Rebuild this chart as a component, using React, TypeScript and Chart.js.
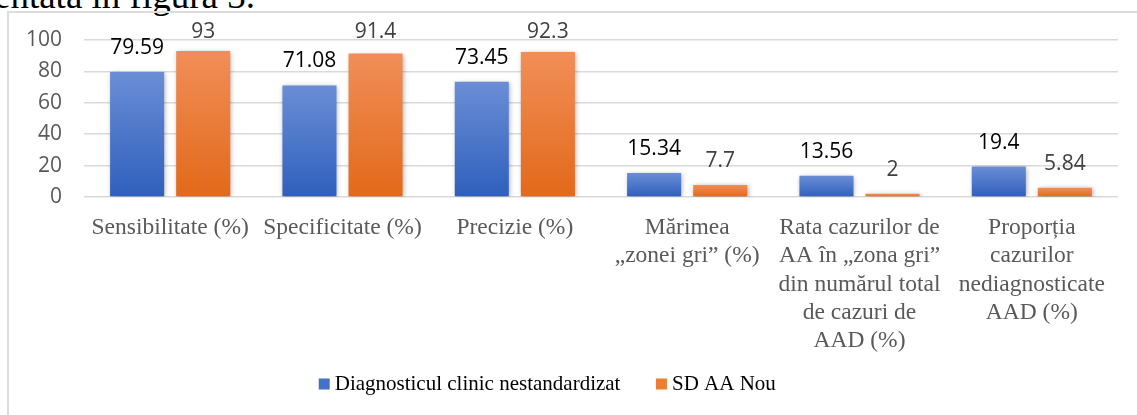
import { useEffect, useRef } from "react";
import { Chart, registerables } from "chart.js";

Chart.register(...registerables);

const categories: (string | string[])[] = [
  "Sensibilitate (%)",
  "Specificitate (%)",
  "Precizie (%)",
  ["Mărimea", "„zonei gri” (%)"],
  ["Rata cazurilor de", "AA în „zona gri”", "din numărul total", "de cazuri de", "AAD (%)"],
  ["Proporția", "cazurilor", "nediagnosticate", "AAD (%)"],
];
const seriesNames = ["Diagnosticul clinic nestandardizat", "SD AA Nou"];
const clinicValues = [79.59, 71.08, 73.45, 15.34, 13.56, 19.4];
const sdValues = [93, 91.4, 92.3, 7.7, 2, 5.84];
const yMin = 0;
const yMax = 100;
const yStep = 20;

const legendColors = ["#4472c4", "#ed7d31"];
const labelColors = ["#000000", "#404040"];

function barGradient(top: string, bottom: string, fallback: string) {
  return (c: any) => {
    const chart = c.chart;
    const y = chart.scales && chart.scales.y;
    if (!chart.chartArea || !y || c.type !== "data") return fallback;
    const v = c.raw as number;
    const y0 = y.getPixelForValue(0);
    const y1 = y.getPixelForValue(v);
    if (!isFinite(y0) || !isFinite(y1) || Math.abs(y0 - y1) < 0.5) return fallback;
    const g = chart.ctx.createLinearGradient(0, y1, 0, y0);
    g.addColorStop(0, top);
    g.addColorStop(1, bottom);
    return g;
  };
}

const LEGEND_SHIFT_X = 13;
const LEGEND_CENTER_Y = 372;
const LEGEND_PAD = 41;
const LEGEND_FONT = 21;

const decorPlugin = {
  id: "decor",
  afterLayout(chart: any) {
    const lg = chart.legend;
    if (lg) {
      lg.left -= LEGEND_SHIFT_X;
      lg.right -= LEGEND_SHIFT_X;
      const targetTop = LEGEND_CENTER_Y - LEGEND_PAD - LEGEND_FONT / 2;
      const dy = lg.top - targetTop;
      lg.top -= dy;
      lg.bottom -= dy;
    }
  },
  beforeDatasetsDraw(chart: any) {
    const ctx = chart.ctx;
    ctx.save();
    ctx.shadowColor = "rgba(0,0,0,0.35)";
    ctx.shadowBlur = 5;
    ctx.shadowOffsetX = 1;
    ctx.shadowOffsetY = 1;
  },
  afterDatasetsDraw(chart: any) {
    const ctx = chart.ctx;
    ctx.restore();
    ctx.save();
    ctx.font = "21px 'Open Sans'";
    ctx.textAlign = "center";
    ctx.textBaseline = "alphabetic";
    chart.data.datasets.forEach((ds: any, di: number) => {
      const meta = chart.getDatasetMeta(di);
      ctx.fillStyle = labelColors[di];
      meta.data.forEach((bar: any, i: number) => {
        const yb = Math.max(bar.y - 18, 25.5);
        ctx.fillText(String(ds.data[i]), bar.x, yb);
      });
    });
    ctx.restore();
  },
};

export default function App() {
  const ref = useRef<HTMLCanvasElement | null>(null);

  useEffect(() => {
    if (!ref.current) return;
    const chart = new Chart(ref.current, {
      type: "bar",
      data: {
        labels: categories as any,
        datasets: [
          {
            label: seriesNames[0],
            data: clinicValues,
            backgroundColor: barGradient("#6a8ed5", "#2f5fbd", legendColors[0]) as any,
            borderWidth: 0,
            categoryPercentage: 0.767,
            barPercentage: 0.818,
          },
          {
            label: seriesNames[1],
            data: sdValues,
            backgroundColor: barGradient("#f18e58", "#e2691a", legendColors[1]) as any,
            borderWidth: 0,
            categoryPercentage: 0.767,
            barPercentage: 0.818,
          },
        ],
      },
      options: {
        animation: false,
        responsive: false,
        maintainAspectRatio: false,
        layout: { padding: { left: 0, right: 19, top: 28, bottom: 0 } },
        scales: {
          x: {
            grid: { display: false, drawTicks: false },
            border: { display: false },
            ticks: {
              autoSkip: false,
              maxRotation: 0,
              minRotation: 0,
              padding: 17,
              color: "#595959",
              font: { family: "'Liberation Serif'", size: 23.5, lineHeight: 1.2 },
            },
            afterFit(scale: any) {
              scale.height = 160;
            },
          },
          y: {
            min: yMin,
            max: yMax,
            grid: { color: "#d9d9d9", lineWidth: 1.5, drawTicks: false },
            border: { display: false },
            ticks: {
              stepSize: yStep,
              padding: 22,
              color: "#595959",
              font: { family: "'Open Sans'", size: 21 },
            },
            afterFit(scale: any) {
              scale.width = 76;
              scale.paddingTop = 10;
              scale.paddingBottom = 10;
            },
          },
        },
        plugins: {
          tooltip: { enabled: false },
          legend: {
            position: "bottom",
            labels: {
              usePointStyle: true,
              pointStyle: "rect",
              boxWidth: 0.01,
              boxHeight: 11,
              padding: LEGEND_PAD,
              color: "#000000",
              font: { family: "'Liberation Serif'", size: LEGEND_FONT },
              generateLabels: (c: any) => {
                const items = (Chart.defaults.plugins.legend.labels as any).generateLabels(c);
                return items.map((it: any, i: number) => ({
                  ...it,
                  fillStyle: legendColors[i],
                  strokeStyle: legendColors[i],
                  lineWidth: 0,
                  pointStyle: "rect",
                }));
              },
            },
          },
        },
      },
      plugins: [decorPlugin],
    });
    return () => chart.destroy();
  }, []);

  return (
    <div
      style={{
        position: "fixed",
        left: 0,
        top: 0,
        width: 1137,
        height: 415,
        overflow: "hidden",
        background: "#ffffff",
      }}
    >
      <div
        style={{
          position: "absolute",
          left: -6,
          top: -23,
          fontFamily: "'Liberation Serif'",
          fontSize: 37,
          lineHeight: 1,
          color: "#000",
          whiteSpace: "nowrap",
        }}
      >
        entată în figura 3.
      </div>
      <div
        style={{
          position: "absolute",
          left: 7,
          top: 11,
          width: 1300,
          height: 600,
          border: "2px solid #dcdcdc",
          boxSizing: "border-box",
        }}
      />
      <canvas
        ref={ref}
        width={1129}
        height={417}
        style={{ position: "absolute", left: 8, top: 12, width: 1129, height: 417 }}
      />
    </div>
  );
}
